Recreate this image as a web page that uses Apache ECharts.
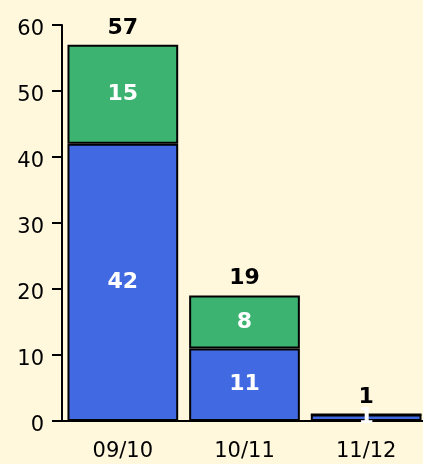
<!DOCTYPE html>
<html>
<head>
<meta charset="utf-8">
<script src="https://cdn.jsdelivr.net/npm/echarts@6/dist/echarts.min.js"></script>
<style>
  html, body { margin: 0; padding: 0; background: #FFF8DC; overflow: hidden; }
  /* a bit wider than the window: the last category runs off the right edge */
  #chart { width: 427px; height: 464px; }
</style>
</head>
<body>
<div id="chart"></div>
<script>
// seasons on the x axis
const categories = ['09/10', '10/11', '11/12'];
// lower (blue) and upper (green) stacked segments
const blueValues = [42, 11, 1];
const greenValues = [15, 8, 0];
const totals = blueValues.map((v, i) => v + greenValues[i]);

const chart = echarts.init(document.getElementById('chart'));

const segLabel = {
    show: true,
    position: 'inside',
    color: '#fff',
    fontFamily: 'DejaVu Sans',
    fontWeight: 'bold',
    fontSize: 22,
    formatter: p => (p.value ? String(p.value) : '')
};

const option = {
    backgroundColor: '#FFF8DC',
    animation: false,
    grid: { left: 62, right: 0, top: 25, bottom: 43 },
    xAxis: [
        {
            type: 'category',
            data: categories,
            axisLine: { lineStyle: { color: '#000', width: 2 } },
            axisTick: { length: 6, lineStyle: { color: '#000', width: 2 } },
            axisLabel: { color: '#000', fontFamily: 'DejaVu Sans', fontSize: 21, margin: 20 }
        },
        {
            // inner half of the crossing ticks
            type: 'category',
            position: 'bottom',
            data: categories,
            axisLine: { show: false },
            axisTick: { inside: true, length: 6, lineStyle: { color: '#000', width: 2 } },
            axisLabel: { show: false }
        }
    ],
    yAxis: {
        type: 'value',
        min: 0,
        max: 60,
        interval: 10,
        splitLine: { show: false },
        axisLine: { show: true, lineStyle: { color: '#000', width: 2 } },
        axisTick: { show: true, length: 10, lineStyle: { color: '#000', width: 2 } },
        axisLabel: {
            color: '#000', fontFamily: 'DejaVu Sans', fontSize: 21, margin: 18,
            // labels sit a few px below their ticks in the original
            verticalAlign: 'top', lineHeight: 10
        }
    },
    series: [
        {
            name: 'blue',
            type: 'bar',
            stack: 'all',
            data: blueValues,
            barCategoryGap: '9%',
            itemStyle: { color: '#4169E1', borderColor: '#000', borderWidth: 2 },
            label: segLabel
        },
        {
            name: 'green',
            type: 'bar',
            stack: 'all',
            data: greenValues,
            itemStyle: { color: '#3CB371', borderColor: '#000', borderWidth: 2 },
            label: segLabel
        },
        {
            name: 'total',
            type: 'bar',
            stack: 'all',
            data: totals.map(() => 0),
            itemStyle: { color: 'transparent', borderWidth: 0 },
            label: {
                show: true,
                position: 'top',
                distance: 6,
                color: '#000',
                fontFamily: 'DejaVu Sans',
                fontWeight: 'bold',
                fontSize: 22,
                formatter: p => String(totals[p.dataIndex])
            }
        }
    ]
};

chart.setOption(option);
</script>
</body>
</html>
